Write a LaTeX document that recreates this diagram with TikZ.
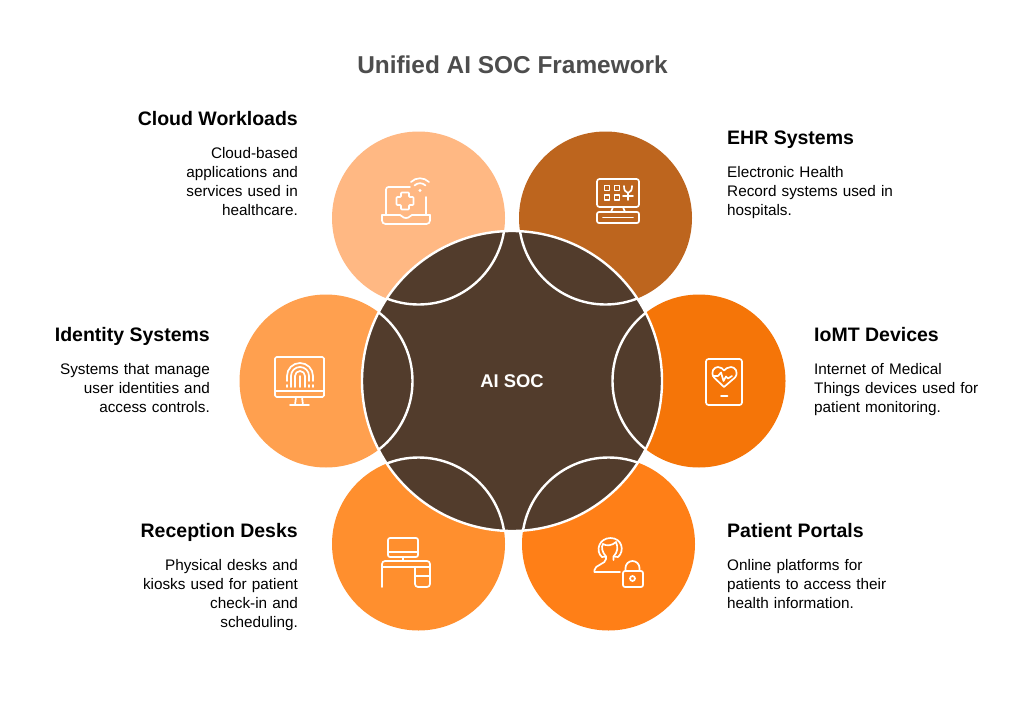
\documentclass[tikz,border=0pt]{standalone}
\usepackage{fontspec}
\setmainfont{Liberation Sans}
\definecolor{ccloud}{HTML}{FFB883}
\definecolor{cehr}{HTML}{BD651E}
\definecolor{cident}{HTML}{FFA04F}
\definecolor{ciomt}{HTML}{F57508}
\definecolor{crecep}{HTML}{FF8F2E}
\definecolor{cportal}{HTML}{FF7F17}
\definecolor{ccore}{HTML}{523C2C}
\definecolor{ctitle}{HTML}{4D4D4D}
\tikzset{
  petal/.style={circle,minimum size=173pt,inner sep=0pt,outer sep=0pt},
  corecirc/.style={circle,minimum size=300pt,inner sep=0pt,outer sep=0pt,fill=ccore,draw=white,line width=2.4pt},
  head/.style={font=\fontsize{19.5}{22}\selectfont\bfseries,text=black,inner sep=0pt},
  bodyl/.style={font=\fontsize{15.3}{19}\selectfont,text=black,inner sep=0pt,align=left,anchor=north west,text width=190pt},
  bodyr/.style={font=\fontsize{15.3}{19}\selectfont,text=black,inner sep=0pt,align=right,anchor=north east,text width=190pt},
  icon/.style={draw=white,line width=1.7pt,line cap=round,line join=round}
}
\begin{document}
\begin{tikzpicture}[x=1pt,y=-1pt]
\useasboundingbox (0,0) rectangle (1024,706);
\fill[white] (0,0) rectangle (1024,706);
\node[font=\fontsize{24.4}{28}\selectfont\bfseries,text=ctitle,inner sep=0pt] (title) at (512.5,65) {Unified AI SOC Framework};
\node[petal,fill=ccloud] (cloud) at (418.5,218) {};
\node[petal,fill=cehr] (ehr) at (605.5,218) {};
\node[petal,fill=cident] (ident) at (326,381) {};
\node[petal,fill=ciomt] (iomt) at (699,381) {};
\node[petal,fill=crecep] (recep) at (418.5,544) {};
\node[petal,fill=cportal] (portal) at (608.5,544) {};
\node[corecirc] (core) at (512,381) {};
\begin{scope}
\clip (512,381) circle (150pt);
\foreach \p/\q in {418.5/218,605.5/218,326/381,699/381,418.5/544,608.5/544}
  \draw[white,line width=2.4pt] (\p,\q) circle (86.5pt);
\end{scope}
\node[font=\fontsize{18.4}{22}\selectfont\bfseries,text=white,inner sep=0pt] (corelabel) at (512,381) {AI SOC};
% texts
\node[head,anchor=base east] (h1) at (298,125.5) {Cloud Workloads};
\node[bodyr] (b1) at (298,147.5) {Cloud-based\\applications and\\services used in\\healthcare.};
\node[head,anchor=base west] (h2) at (727,144.5) {EHR Systems};
\node[bodyl] (b2) at (727,166.5) {Electronic Health\\Record systems used in\\hospitals.};
\node[head,anchor=base east] (h3) at (210,341.5) {Identity Systems};
\node[bodyr] (b3) at (210,363.5) {Systems that manage\\user identities and\\access controls.};
\node[head,anchor=base west] (h4) at (814,341.5) {IoMT Devices};
\node[bodyl] (b4) at (814,363.5) {Internet of Medical\\Things devices used for\\patient monitoring.};
\node[head,anchor=base east] (h5) at (298,537.5) {Reception Desks};
\node[bodyr] (b5) at (298,559.5) {Physical desks and\\kiosks used for patient\\check-in and\\scheduling.};
\node[head,anchor=base west] (h6) at (727,537.5) {Patient Portals};
\node[bodyl] (b6) at (727,559.5) {Online platforms for\\patients to access their\\health information.};
% cloud icon
\draw[icon,rounded corners=2.5pt] (386,215) -- (386,187) -- (410,187);
\draw[icon] (426,197) -- (426,215);
\draw[icon,rounded corners=3.5pt] (382,215) -- (382,224) -- (430,224) -- (430,215);
\draw[icon] (382,215) -- (400,215) .. controls (402,215) and (402,218) .. (406,218) .. controls (410,218) and (410,215) .. (412,215) -- (430,215);
\draw[icon,rounded corners=0.8pt] (401,192.5) -- (409,192.5) -- (409,197) -- (413.5,197) -- (413.5,205) -- (409,205) -- (409,209.5) -- (401,209.5) -- (401,205) -- (396.5,205) -- (396.5,197) -- (401,197) -- cycle;
\fill[white] (420,190.5) circle (1.6pt);
\draw[icon] (414.5,185.5) arc[start angle=-135,end angle=-45,radius=7.8];
\draw[icon] (411,182) arc[start angle=-135,end angle=-45,radius=12.7];
% EHR icon
\draw[icon,rounded corners=2.5pt] (597,179) rectangle (639,207);
\draw[icon] (613,207) -- (611,212) (623,207) -- (625,212);
\draw[icon,rounded corners=2pt] (597,212) rectangle (639,223);
\draw[icon] (603,217.5) -- (633,217.5);
\foreach \a in {604.5,614.5} \foreach \b in {185.5,195}
  \draw[icon] (\a,\b) rectangle ++(5,5);
\draw[icon] (624,186) .. controls (624,190) and (625,192) .. (628,193) .. controls (631,192) and (632,190) .. (632,186);
\draw[icon] (628,193) -- (628,200) (623,196) -- (633,196);
% identity icon
\draw[icon,rounded corners=1.5pt] (275,357) rectangle (324,397);
\draw[icon] (275,391) -- (324,391);
\draw[icon] (296,397) -- (295,405) (302,397) -- (303,405) (290,405) -- (309,405);
\draw[icon] (287,387) -- (287,385) (287,381) -- (287,376) arc[start angle=-180,end angle=0,radius=13] -- (313,381) (313,385) -- (313,387);
\draw[icon] (291,387) -- (291,376) arc[start angle=-180,end angle=0,radius=9] -- (309,381) (309,385) -- (309,387);
\draw[icon] (295,387) -- (295,376) arc[start angle=-180,end angle=0,radius=5] -- (305,387);
\draw[icon] (300,376) -- (300,387);
% iomt icon
\draw[icon,rounded corners=2.5pt] (706,359) rectangle (742,405);
\draw[icon] (721,396) -- (727.5,396);
\draw[icon] (724,387) -- (714,377.5) .. controls (710,372) and (714,367) .. (718,367) .. controls (721,367) and (723,369) .. (724,370.5) .. controls (725,369) and (728,367) .. (731,367) .. controls (735,367) and (739,372) .. (735,377.5) -- cycle;
\draw[icon] (713,376) -- (718,376) -- (721,372.5) -- (723.5,381) -- (726,376.5) -- (728,378.5) -- (732,376);
% reception icon
\draw[icon,rounded corners=2pt] (388,538) rectangle (418,557);
\draw[icon] (388,552) -- (418,552) (403,557) -- (403,561);
\draw[icon,rounded corners=3pt] (382,587) -- (382,561) -- (430,561) -- (430,567);
\draw[icon] (382,567) -- (430,567);
\draw[icon,rounded corners=3pt] (415,567) -- (415,587) -- (430,587) -- (430,567);
\draw[icon] (415,576) -- (430,576);
% portal icon
\draw[icon,rounded corners=2pt] (594.5,572) -- (594.5,568) -- (606,561) -- (606,556.5);
\draw[icon] (594.5,572) -- (620,572);
\draw[icon] (606,556.5) .. controls (602,552) and (601,547) .. (603,544) .. controls (606,546) and (612,546) .. (616,542) .. controls (618,547) and (618,552) .. (613.5,556.5) -- (613.5,560);
\draw[icon] (602,557) .. controls (595,551) and (599,538) .. (610.5,538) .. controls (622,538) and (625,551) .. (618,557) -- (614,556.5);
\draw[icon] (602,557) -- (606,556.5);
\draw[icon,rounded corners=2pt] (623,571) rectangle (643,587);
\draw[icon] (625.5,571) -- (625.5,568) arc[start angle=-180,end angle=0,radius=7] -- (639.5,571);
\draw[icon] (632.5,578.5) circle (2.5pt);
\end{tikzpicture}
\end{document}
